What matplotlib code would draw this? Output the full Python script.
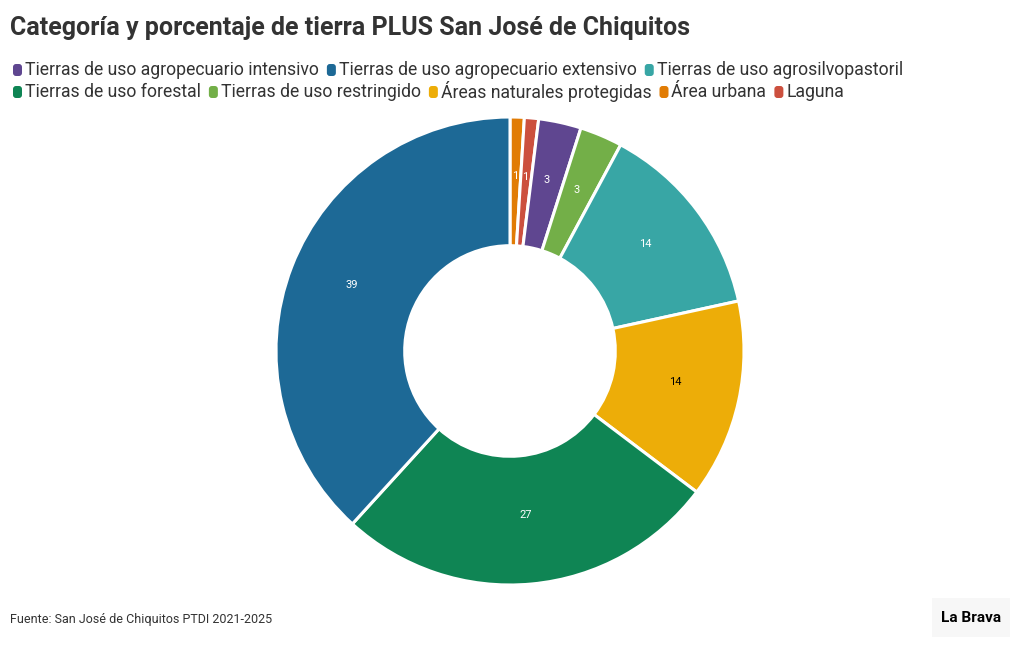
import matplotlib.pyplot as plt
from matplotlib.patches import FancyBboxPatch
from matplotlib.transforms import IdentityTransform

# data, in drawing order (clockwise from 12 o'clock)
categories = [
    "Área urbana",
    "Laguna",
    "Tierras de uso agropecuario intensivo",
    "Tierras de uso restringido",
    "Tierras de uso agrosilvopastoril",
    "Áreas naturales protegidas",
    "Tierras de uso forestal",
    "Tierras de uso agropecuario extensivo",
]
values = [1, 1, 3, 3, 14, 14, 27, 39]
colors = ["#E17C05", "#CC503E", "#5F4690", "#73AF48", "#38A6A5", "#EDAD08", "#0F8554", "#1D6996"]

# legend order (as shown above the chart)
legend_rows = [
    ["Tierras de uso agropecuario intensivo", "Tierras de uso agropecuario extensivo",
     "Tierras de uso agrosilvopastoril"],
    ["Tierras de uso forestal", "Tierras de uso restringido", "Áreas naturales protegidas",
     "Área urbana", "Laguna"],
]

title = "Categoría y porcentaje de tierra PLUS San José de Chiquitos"
source = "Fuente: San José de Chiquitos PTDI 2021-2025"

plt.rcParams['font.family'] = ['Roboto', 'DejaVu Sans']

W, H = 1020, 650
fig = plt.figure(figsize=(W / 100, H / 100), dpi=100)
fig.patch.set_facecolor('white')

# donut: centre (510, 351), outer radius 234 px
cx, cy, r = 510, 351, 234
ax = fig.add_axes([(cx - r) / W, (H - cy - r) / H, 2 * r / W, 2 * r / H])
total = sum(values)
wedges, texts, autotexts = ax.pie(
    values, colors=colors, startangle=90, counterclock=False, radius=1,
    wedgeprops=dict(width=0.55, edgecolor='white', linewidth=2.2),
    autopct=lambda p: f"{p * total / 100:.0f}", pctdistance=0.725,
    textprops=dict(fontsize=8),
)
for t, c in zip(autotexts, colors):
    t.set_color('black' if c == "#EDAD08" else 'white')
    t.set_va('bottom')
ax.set_xlim(-1, 1)
ax.set_ylim(-1, 1)
ax.set_aspect('equal')
ax.axis('off')

# title
fig.text(10 / W, 1 - 28 / H, title, fontsize=18, fontweight='bold',
         color='#333333', va='center', ha='left')

# legend drawn by hand so the rows wrap like the original
fig.canvas.draw()
renderer = fig.canvas.get_renderer()
color_of = dict(zip(categories, colors))
for row_y, row in zip([70, 92], legend_rows):
    x = 13
    for label in row:
        box = FancyBboxPatch((x, H - row_y - 6), 9, 12,
                             boxstyle="round,pad=0,rounding_size=3",
                             facecolor=color_of[label], edgecolor='none',
                             transform=IdentityTransform())
        fig.patches.append(box)
        t = fig.text((x + 12) / W, 1 - row_y / H, label, fontsize=12.7,
                     color='#333333', va='center', ha='left')
        bb = t.get_window_extent(renderer)
        x = bb.x1 + 8

# footer
fig.text(10 / W, 1 - 620 / H, source, fontsize=9, color='#333333',
         va='center', ha='left')
logo_bg = FancyBboxPatch((932, H - 637), 78, 39, boxstyle="square,pad=0",
                         facecolor='#f7f7f7', edgecolor='none',
                         transform=IdentityTransform())
fig.patches.append(logo_bg)
fig.text(971 / W, 1 - 618 / H, "La Brava", fontsize=11, fontweight='bold',
         color='black', va='center', ha='center')

plt.savefig('out.png', dpi=100)
plt.close()
